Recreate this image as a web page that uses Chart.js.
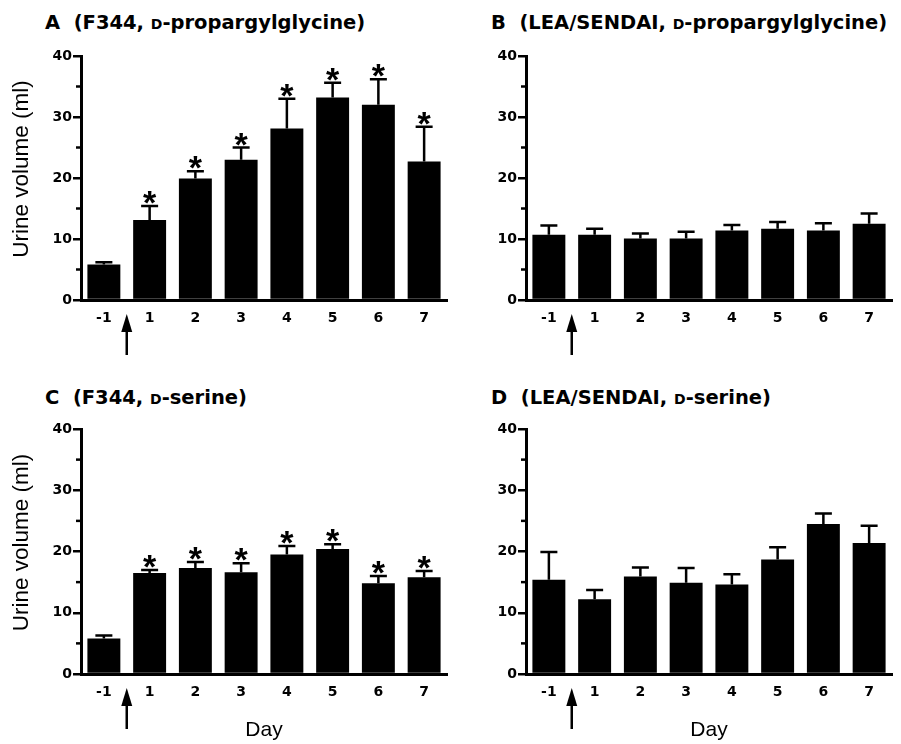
<!DOCTYPE html>
<html>
<head>
<meta charset="utf-8">
<script src="https://cdn.jsdelivr.net/npm/chart.js@4.4.1/dist/chart.umd.min.js"></script>
<style>
  body { margin: 0; background: #fff; }
  #wrap { position: relative; width: 901px; height: 744px; overflow: hidden; background: #fff; }
  canvas { position: absolute; }
  .ttl { position: absolute; font: bold 19.5px "DejaVu Sans", sans-serif; line-height: 19.5px; white-space: nowrap; color: #000; }
  .sc { font-size: 14px; }
</style>
</head>
<body>
<div id="wrap">
  <div class="ttl" style="left:45px;top:12.5px">A&nbsp;&nbsp;(F344, <span class="sc">D</span>-propargylglycine)</div>
  <div class="ttl" style="left:491px;top:12.5px">B&nbsp;&nbsp;(LEA/SENDAI, <span class="sc">D</span>-propargylglycine)</div>
  <div class="ttl" style="left:45px;top:387.5px">C&nbsp;&nbsp;(F344, <span class="sc">D</span>-serine)</div>
  <div class="ttl" style="left:491px;top:387.5px">D&nbsp;&nbsp;(LEA/SENDAI, <span class="sc">D</span>-serine)</div>
  <canvas id="cA" width="450" height="372" style="left:0;top:0"></canvas>
  <canvas id="cB" width="451" height="372" style="left:450px;top:0"></canvas>
  <canvas id="cC" width="450" height="372" style="left:0;top:372px"></canvas>
  <canvas id="cD" width="451" height="372" style="left:450px;top:372px"></canvas>
</div>
<script>
// Days (arrow marks the start of treatment, between day -1 and day 1)
const days = ['-1', '1', '2', '3', '4', '5', '6', '7'];
const yTicks = [0, 10, 20, 30, 40];
const yMinorTicks = [5, 15, 25, 35];

// A: F344, D-propargylglycine
const meanA = [5.8, 13.1, 19.9, 23.0, 28.1, 33.2, 32.0, 22.7];
const semA  = [0.4, 2.3, 1.2, 2.0, 4.9, 2.4, 4.2, 5.7];
const starA = [false, true, true, true, true, true, true, true];

// B: LEA/SENDAI, D-propargylglycine
const meanB = [10.7, 10.7, 10.1, 10.1, 11.4, 11.7, 11.4, 12.5];
const semB  = [1.5, 1.0, 0.8, 1.1, 0.9, 1.1, 1.2, 1.7];
const starB = [false, false, false, false, false, false, false, false];

// C: F344, D-serine
const meanC = [5.8, 16.5, 17.3, 16.6, 19.5, 20.4, 14.8, 15.8];
const semC  = [0.5, 0.5, 1.0, 1.5, 1.4, 0.8, 1.2, 1.0];
const starC = [false, true, true, true, true, true, true, true];

// D: LEA/SENDAI, D-serine
const meanD = [15.4, 12.2, 15.9, 14.9, 14.6, 18.7, 24.5, 21.4];
const semD  = [4.5, 1.5, 1.5, 2.4, 1.7, 2.0, 1.7, 2.8];
const starD = [false, false, false, false, false, false, false, false];

const SANS = '"Liberation Sans", Arial, sans-serif';
const BOLD = '"DejaVu Sans", sans-serif';

const errorBars = {
    id: 'errorBars',
    afterDatasetsDraw(chart, args, opts) {
        const { ctx, scales: { y } } = chart;
        const meta = chart.getDatasetMeta(0);
        const data = chart.data.datasets[0].data;
        ctx.save();
        ctx.strokeStyle = '#000';
        ctx.fillStyle = '#000';
        ctx.lineWidth = 2.5;
        meta.data.forEach((bar, i) => {
            const yTop = y.getPixelForValue(data[i] + opts.sem[i]);
            ctx.beginPath();
            ctx.moveTo(bar.x, bar.y);
            ctx.lineTo(bar.x, yTop);
            ctx.moveTo(bar.x - 8.5, yTop);
            ctx.lineTo(bar.x + 8.5, yTop);
            ctx.stroke();
            if (opts.stars[i]) {
                ctx.font = 'bold 34px ' + SANS;
                ctx.textAlign = 'center';
                ctx.textBaseline = 'alphabetic';
                ctx.fillText('*', bar.x, yTop + 8);
            }
        });
        ctx.restore();
    },
    afterDraw(chart, args, opts) {
        const { ctx, chartArea, scales: { x, y } } = chart;
        ctx.save();
        ctx.strokeStyle = '#000';
        ctx.fillStyle = '#000';
        ctx.lineWidth = 2.5;
        // minor y ticks
        yMinorTicks.forEach(v => {
            const py = y.getPixelForValue(v);
            ctx.beginPath();
            ctx.moveTo(chartArea.left - 5, py);
            ctx.lineTo(chartArea.left, py);
            ctx.stroke();
        });
        // treatment arrow
        const ax = (x.getPixelForValue(0) + x.getPixelForValue(1)) / 2;
        const tip = chartArea.bottom + 14;
        ctx.beginPath();
        ctx.moveTo(ax, tip + 14);
        ctx.lineTo(ax, chartArea.bottom + 55);
        ctx.stroke();
        ctx.beginPath();
        ctx.moveTo(ax, tip);
        ctx.lineTo(ax - 5.5, tip + 18);
        ctx.lineTo(ax + 5.5, tip + 18);
        ctx.closePath();
        ctx.fill();
        // y axis title, sitting a little above the middle of the axis as in the original
        if (opts.yTitle) {
            ctx.translate(21.5, (chartArea.top + chartArea.bottom) / 2 - 9);
            ctx.rotate(-Math.PI / 2);
            ctx.font = '22.5px ' + SANS;
            ctx.textAlign = 'center';
            ctx.textBaseline = 'middle';
            ctx.fillText(opts.yTitle, 0, 0);
        }
        ctx.restore();
    }
};

function makePanel(id, means, sem, stars, box) {
    const canvas = document.getElementById(id);
    return new Chart(canvas, {
        type: 'bar',
        data: {
            labels: days,
            datasets: [{
                data: means,
                backgroundColor: '#000',
                borderWidth: 0,
                barPercentage: 0.72,
                categoryPercentage: 1
            }]
        },
        options: {
            responsive: false,
            animation: false,
            devicePixelRatio: 1,
            layout: { padding: { left: 0, top: box.top, right: canvas.width - box.right, bottom: 0 } },
            plugins: {
                legend: { display: false },
                tooltip: { enabled: false },
                errorBars: { sem: sem, stars: stars, yTitle: box.yTitle }
            },
            scales: {
                x: {
                    offset: true,
                    grid: { display: false, drawTicks: false },
                    border: { display: true, color: '#000', width: 3 },
                    ticks: { color: '#000', font: { family: BOLD, size: 14, weight: 'bold' }, padding: 10, maxRotation: 0, autoSkip: false },
                    title: { display: box.xTitle, text: 'Day', color: '#000', font: { family: SANS, size: 21 }, padding: { top: 0, bottom: 1 } },
                    afterFit: s => { s.height = canvas.height - box.bottom; }
                },
                y: {
                    min: 0,
                    max: 40,
                    afterBuildTicks: s => { s.ticks = yTicks.map(v => ({ value: v })); },
                    ticks: { color: '#000', font: { family: BOLD, size: 14, weight: 'bold' }, padding: 1 },
                    grid: { display: true, drawOnChartArea: false, drawTicks: true, tickLength: 8, color: '#000', lineWidth: 2.5 },
                    border: { display: true, color: '#000', width: 3 },
                    afterFit: s => { s.width = box.left; }
                }
            }
        },
        plugins: [errorBars]
    });
}

makePanel('cA', meanA, semA, starA, { left: 81, right: 447, top: 56, bottom: 300, yTitle: 'Urine volume (ml)', xTitle: false });
makePanel('cB', meanB, semB, starB, { left: 76, right: 442, top: 56, bottom: 300, yTitle: '', xTitle: false });
makePanel('cC', meanC, semC, starC, { left: 81, right: 447, top: 57, bottom: 302, yTitle: 'Urine volume (ml)', xTitle: true });
makePanel('cD', meanD, semD, starD, { left: 76, right: 442, top: 57, bottom: 302, yTitle: '', xTitle: true });
</script>
</body>
</html>
